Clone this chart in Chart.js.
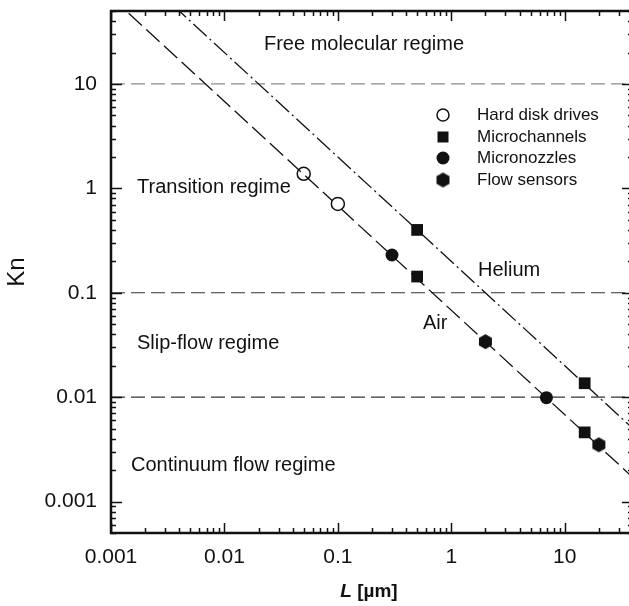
<!DOCTYPE html>
<html>
<head>
<meta charset="utf-8">
<script src="https://cdn.jsdelivr.net/npm/chart.js@4.4.1/dist/chart.umd.min.js"></script>
<style>
  html, body { margin: 0; padding: 0; background: #fff; overflow: hidden; }
  #box { position: absolute; left: 0; top: 0; width: 634px; height: 606px; }
</style>
</head>
<body>
<div id="box"><canvas id="kn"></canvas></div>
<script>
const FONT = '"Liberation Sans", Arial, Helvetica, sans-serif';
const INK = '#111';

// axis decades and their labels
const xDecades    = [0.001, 0.01, 0.1, 1, 10];
const xTickLabels = ['0.001', '0.01', '0.1', '1', '10'];
const yDecades    = [0.001, 0.01, 0.1, 1, 10];
const yTickLabels = ['0.001', '0.01', '0.1', '1', '10'];
const minorSteps  = [2, 3, 4, 5, 6, 7, 8, 9];

// regime boundaries (Kn)
const regimeBounds = [10, 0.1, 0.01];

// mean free path lines, end points
const airLine    = [{ x: 0.001, y: 68 },  { x: 40, y: 0.0017 }];
const heliumLine = [{ x: 0.001, y: 200 }, { x: 40, y: 0.005 }];

// devices
const hardDisks     = [{ x: 0.05, y: 1.38 }, { x: 0.1, y: 0.71 }];
const microchannels = [{ x: 0.5, y: 0.40 }, { x: 0.5, y: 0.143 }, { x: 15, y: 0.0136 }, { x: 15, y: 0.0046 }];
const micronozzles  = [{ x: 0.3, y: 0.23 }, { x: 6.9, y: 0.0099 }];
const flowSensors   = [{ x: 2, y: 0.034 }, { x: 20, y: 0.0035 }];

const X_MIN = 0.001, X_MAX = 40;
const Y_MIN = 0.0005, Y_MAX = 50;

function logTicks(decades, min, max) {
  const out = [];
  [decades[0] / 10, ...decades].forEach(d => {
    if (d >= min * 0.999 && d <= max * 1.001) out.push({ value: d, major: true });
    minorSteps.forEach(m => {
      const v = +(d * m).toPrecision(6);
      if (v >= min * 0.999 && v <= max * 1.001) out.push({ value: v, major: false });
    });
  });
  return out.sort((a, b) => a.value - b.value);
}
const xMarks = logTicks(xDecades, X_MIN, X_MAX);
const yMarks = logTicks(yDecades, Y_MIN, Y_MAX);

function hexagon(r) {
  const s = Math.ceil(r * 2 + 2);
  const c = document.createElement('canvas');
  c.width = s; c.height = s;
  const g = c.getContext('2d');
  g.beginPath();
  for (let i = 0; i < 6; i++) {
    const a = Math.PI / 2 + i * Math.PI / 3;
    g.lineTo(s / 2 + r * Math.cos(a), s / 2 - r * Math.sin(a));
  }
  g.closePath();
  g.fillStyle = INK;
  g.fill();
  return c;
}
const HEX = hexagon(7.5);

// ---------------------------------------------------------------------
// inward tick marks + frame
// ---------------------------------------------------------------------
const framePlugin = {
  id: 'frame',
  afterDraw(chart) {
    const { ctx, chartArea: a, scales } = chart;
    ctx.save();
    ctx.strokeStyle = INK;
    ctx.lineWidth = 1.5;
    ctx.beginPath();
    xMarks.forEach(t => {
      const px = Math.round(scales.x.getPixelForValue(t.value)) + 0.5;
      const len = t.major ? 10 : 5;
      ctx.moveTo(px, a.bottom); ctx.lineTo(px, a.bottom - len);
      ctx.moveTo(px, a.top);    ctx.lineTo(px, a.top + len);
    });
    yMarks.forEach(t => {
      const py = Math.round(scales.y.getPixelForValue(t.value)) + 0.5;
      const len = t.major ? 11 : 5;
      ctx.moveTo(a.left, py);  ctx.lineTo(a.left + len, py);
      ctx.moveTo(a.right, py); ctx.lineTo(a.right - len, py);
    });
    ctx.stroke();

    ctx.lineWidth = 2.5;
    ctx.beginPath();
    ctx.rect(a.left, a.top, a.right - a.left, a.bottom - a.top);
    ctx.stroke();

    // x title with italic L
    ctx.fillStyle = INK;
    ctx.textBaseline = 'middle';
    ctx.textAlign = 'left';
    const f1 = 'italic bold 19px ' + FONT, f2 = 'bold 19px ' + FONT;
    ctx.font = f1; const w1 = ctx.measureText('L').width;
    ctx.font = f2; const w2 = ctx.measureText(' [\u00b5m]').width;
    const x0 = 369 - (w1 + w2) / 2;
    ctx.font = f1; ctx.fillText('L', x0, 592);
    ctx.font = f2; ctx.fillText(' [\u00b5m]', x0 + w1, 592);
    ctx.restore();
  }
};

// ---------------------------------------------------------------------
// regime names, gas names and legend
// ---------------------------------------------------------------------
const textPlugin = {
  id: 'texts',
  afterDatasetsDraw(chart) {
    const { ctx } = chart;
    ctx.save();
    ctx.fillStyle = INK;
    ctx.textBaseline = 'middle';
    ctx.font = '20px ' + FONT;
    ctx.textAlign = 'center';
    ctx.fillText('Free molecular regime', 364, 44);
    ctx.textAlign = 'left';
    ctx.fillText('Transition regime', 137, 187);
    ctx.fillText('Slip-flow regime', 137, 343);
    ctx.fillText('Continuum flow regime', 131, 465);
    ctx.fillText('Helium', 478, 270);
    ctx.fillText('Air', 423, 323);

    // legend
    const lx = 443, tx = 477, rows = [115, 137, 158, 180];
    ctx.font = '17px ' + FONT;
    ['Hard disk drives', 'Microchannels', 'Micronozzles', 'Flow sensors']
      .forEach((s, i) => ctx.fillText(s, tx, rows[i]));
    ctx.lineWidth = 1.5;
    ctx.strokeStyle = INK;
    ctx.beginPath(); ctx.arc(lx, rows[0], 6, 0, Math.PI * 2);
    ctx.fillStyle = '#fff'; ctx.fill(); ctx.stroke();
    ctx.fillStyle = INK;
    ctx.fillRect(lx - 5.5, rows[1] - 5.5, 11, 11);
    ctx.beginPath(); ctx.arc(lx, rows[2], 6.5, 0, Math.PI * 2); ctx.fill();
    ctx.drawImage(HEX, lx - HEX.width / 2, rows[3] - HEX.height / 2);
    ctx.restore();
  }
};

const boundDatasets = regimeBounds.map((k, i) => ({
  data: [{ x: X_MIN, y: k }, { x: X_MAX, y: k }],
  showLine: true, pointRadius: 0,
  borderColor: i === 0 ? '#8a8a8a' : '#333',
  borderWidth: 1.2,
  borderDash: [14, 6],
  order: 10,
}));

new Chart(document.getElementById('kn'), {
  type: 'scatter',
  data: {
    datasets: [
      { label: 'Hard disk drives', data: hardDisks, pointStyle: 'circle', pointRadius: 6.5,
        pointBackgroundColor: ['rgba(255,255,255,0)', '#fff'], pointBorderColor: INK, pointBorderWidth: 1.5, order: 1 },
      { label: 'Microchannels', data: microchannels, pointStyle: 'rect', pointRadius: 8.3,
        pointBackgroundColor: INK, pointBorderWidth: 0, order: 1 },
      { label: 'Micronozzles', data: micronozzles, pointStyle: 'circle', pointRadius: 6.5,
        pointBackgroundColor: INK, pointBorderWidth: 0, order: 1 },
      { label: 'Flow sensors', data: flowSensors, pointStyle: HEX, pointRadius: 7.5, order: 1 },
      { label: 'Air', data: airLine, showLine: true, pointRadius: 0,
        borderColor: INK, borderWidth: 1.3, borderDash: [18, 6], order: 5 },
      { label: 'Helium', data: heliumLine, showLine: true, pointRadius: 0,
        borderColor: INK, borderWidth: 1.3, borderDash: [18, 4, 2, 4], order: 5 },
      ...boundDatasets,
    ],
  },
  options: {
    responsive: true,
    maintainAspectRatio: false,
    animation: false,
    events: [],
    layout: { autoPadding: false, padding: { left: 0, top: 11, right: 1, bottom: 0 } },
    plugins: { legend: { display: false }, tooltip: { enabled: false } },
    scales: {
      x: {
        type: 'logarithmic', min: X_MIN, max: X_MAX,
        afterBuildTicks: s => { s.ticks = xDecades.map(v => ({ value: v, major: true })); },
        afterFit: s => { s.height = 73; s.paddingLeft = 0; s.paddingRight = 0; },
        grid: { display: false, drawTicks: false }, border: { display: false },
        ticks: {
          autoSkip: false, maxRotation: 0, padding: 12, color: INK,
          font: { family: FONT, size: 21 },
          callback: v => { const i = xDecades.indexOf(v); return i >= 0 ? xTickLabels[i] : null; },
        },
      },
      y: {
        type: 'logarithmic', min: Y_MIN, max: Y_MAX,
        afterBuildTicks: s => { s.ticks = yDecades.map(v => ({ value: v, major: true })); },
        afterFit: s => { s.width = 111; s.paddingTop = 0; s.paddingBottom = 0; },
        grid: { display: false, drawTicks: false }, border: { display: false },
        title: { display: true, text: 'Kn', color: INK, font: { family: FONT, size: 24 }, padding: { top: 3, bottom: 0 } },
        ticks: {
          autoSkip: false, padding: 14, color: INK,
          font: { family: FONT, size: 21 },
          callback: v => { const i = yDecades.indexOf(v); return i >= 0 ? yTickLabels[i] : null; },
        },
      },
    },
  },
  plugins: [framePlugin, textPlugin],
});
</script>
</body>
</html>
